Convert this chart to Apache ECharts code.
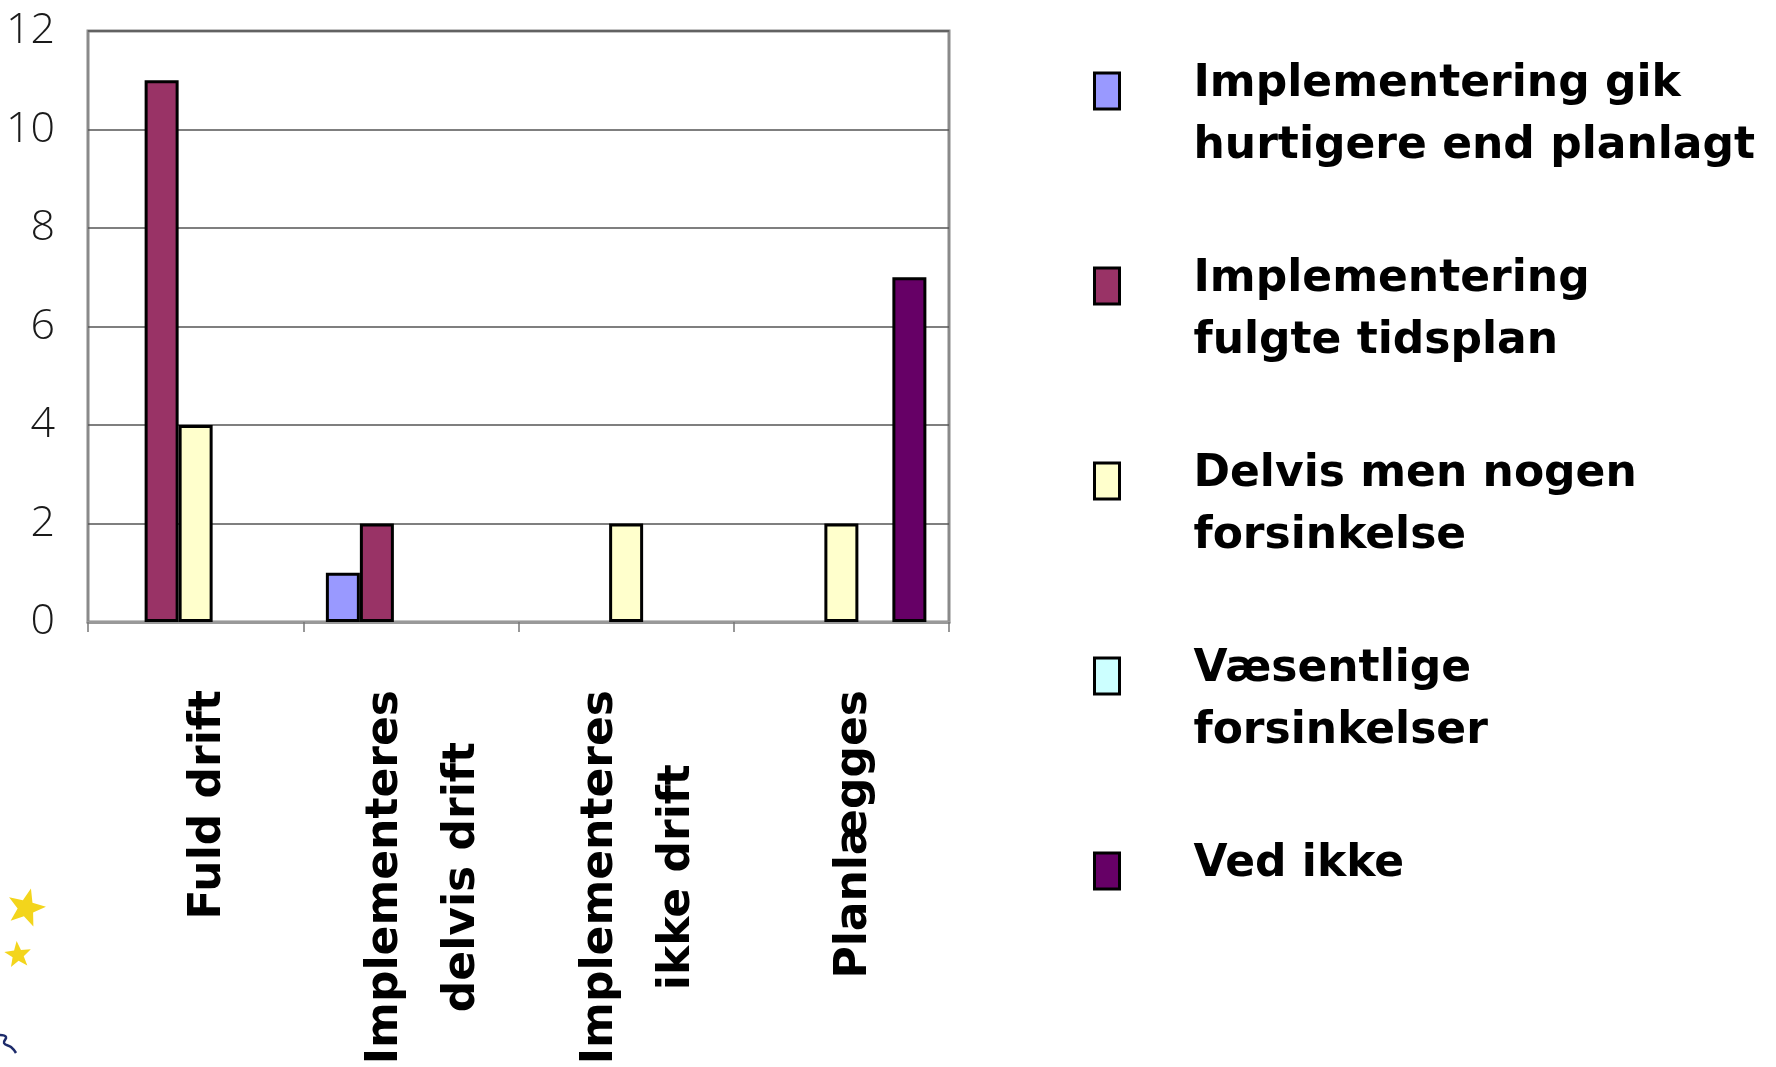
<!DOCTYPE html>
<html><head><meta charset="utf-8">
<script src="https://cdn.jsdelivr.net/npm/echarts@6/dist/echarts.min.js"></script>
<style>html,body{margin:0;padding:0;background:#fff}#c{width:1776px;height:1067px}</style>
</head><body><div id="c"></div>
<script>
// ---- data ----
const categories = ['Fuld drift', 'Implementeres\ndelvis drift', 'Implementeres\nikke drift', 'Planlægges'];
const seriesNames = [
  'Implementering gik\nhurtigere end planlagt',
  'Implementering\nfulgte tidsplan',
  'Delvis men nogen\nforsinkelse',
  'Væsentlige\nforsinkelser',
  'Ved ikke'
];
const hurtigere   = [0, 1, 0, 0];
const fulgte      = [11, 2, 0, 0];
const delvis      = [4, 0, 2, 2];
const vaesentlige = [0, 0, 0, 0];
const vedIkke     = [0, 0, 0, 7];
const yMin = 0, yMax = 12, yInterval = 2;

// ---- styles ----
const colors = ['#9999FF', '#993366', '#FFFFCC', '#CCFFFF', '#660066'];
const values = [hurtigere, fulgte, delvis, vaesentlige, vedIkke];
const comic = 'DejaVu Sans';

function starPoints(cx, cy, r, rot) {
  const pts = [];
  for (let k = 0; k < 10; k++) {
    const rr = k % 2 === 0 ? r : r * 0.42;
    const a = rot + k * Math.PI / 5 - Math.PI / 2;
    pts.push([cx + rr * Math.cos(a), cy + rr * Math.sin(a)]);
  }
  return pts;
}

const chart = echarts.init(document.getElementById('c'), null, {renderer: 'canvas'});

const legendRich = {t: {fontFamily: comic, fontWeight: 'bold', fontSize: 44, lineHeight: 62, color: '#000'}};

chart.setOption({
  animation: false,
  backgroundColor: '#fff',
  graphic: [
    {type: 'polygon', silent: true, shape: {points: starPoints(26, 908, 20, 0.25)}, style: {fill: '#F3D51C'}},
    {type: 'polygon', silent: true, shape: {points: starPoints(18, 955, 14, -0.1)}, style: {fill: '#F3D51C'}},
    {type: 'polyline', silent: true,
     shape: {points: [[0, 1035], [6, 1037], [4, 1043], [11, 1047], [16, 1053]], smooth: 0.5},
     style: {fill: null, stroke: '#1d2b6b', lineWidth: 2.5}}
  ],
  grid: {
    left: 88, top: 31, right: 827, bottom: 445,
    show: true, borderColor: '#8a8a8a', borderWidth: 3, backgroundColor: '#fff',
    containLabel: false, outerBoundsMode: 'none'
  },
  legend: {
    orient: 'vertical', left: 1093, top: 4, padding: 0, itemGap: 21,
    itemWidth: 25, itemHeight: 36, icon: 'rect', selectedMode: false,
    itemStyle: {borderColor: '#000', borderWidth: 3},
    formatter: name => name.split('\n').map(s => '{t|' + s + '}').join('\n'),
    textStyle: {
      fontFamily: comic, fontWeight: 'bold', fontSize: 44, lineHeight: 62, color: '#000',
      padding: [50, 0, 0, 69], backgroundColor: 'rgba(255,255,255,0)', rich: legendRich
    },
    data: seriesNames.map((n, i) => i === seriesNames.length - 1
      ? {name: n, textStyle: {padding: [50, 0, 62, 69]}}
      : {name: n})
  },
  xAxis: {
    type: 'category', data: categories,
    axisLine: {show: true, lineStyle: {color: '#999', width: 3}},
    axisTick: {show: true, length: 10, lineStyle: {color: '#777', width: 1.5}},
    splitLine: {show: false},
    axisLabel: {
      interval: 0, rotate: 90, margin: 68, color: '#000',
      fontFamily: comic, fontWeight: 'bold', fontSize: 44, lineHeight: 77,
      padding: [26, 0, 0, 0],
      formatter: v => v.split('\n').map(s => '{c|' + s + '}').join('\n'),
      rich: {c: {align: 'center', fontFamily: comic, fontWeight: 'bold', fontSize: 44, lineHeight: 77, color: '#000'}}
    }
  },
  yAxis: {
    type: 'value', min: yMin, max: yMax, interval: yInterval,
    axisLine: {show: false}, axisTick: {show: false},
    splitLine: {show: true, lineStyle: {color: '#555', width: 1.5}},
    axisLabel: {margin: 33, color: '#1a1a1a', fontFamily: 'Open Sans', fontWeight: 300, fontSize: 43}
  },
  series: seriesNames.map((n, i) => ({
    name: n, type: 'bar', barWidth: 34, barGap: '0%',
    itemStyle: {color: colors[i], borderColor: '#000', borderWidth: 3},
    data: values[i].map(v => v === 0 ? '-' : v)
  }))
});
</script></body></html>
